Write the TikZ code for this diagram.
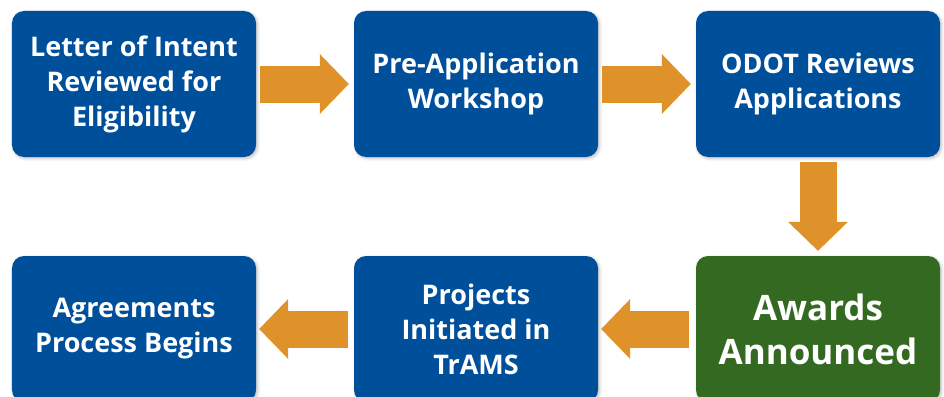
\documentclass[tikz,border=0pt]{standalone}
\usepackage{fontspec}
\setmainfont{Open Sans}
\usepackage{tikz}
\usetikzlibrary{arrows.meta,shadows.blur}
\definecolor{stepblue}{RGB}{0,79,155}
\definecolor{awardgreen}{RGB}{51,105,32}
\definecolor{floworange}{RGB}{224,146,42}
\tikzset{
    stepnode/.style = {align=center, inner sep=2pt, text centered, text=white},
    step_box/.style = {stepnode, rectangle, rounded corners=12bp, fill=stepblue, minimum width=244bp, minimum height=146bp,
        font=\bfseries\fontsize{27bp}{35bp}\selectfont,
        blur shadow={shadow xshift=1.5bp, shadow yshift=-1.5bp, shadow blur radius=3bp, shadow opacity=25}},
    award_box/.style = {step_box, fill=awardgreen, font=\bfseries\fontsize{35bp}{44bp}\selectfont},
    flow_arrow/.style = {draw=floworange, line width=37bp, -{Triangle[length=29bp, width=60bp, line width=0pt]}}
}

\begin{document}
\begin{tikzpicture}[x=1bp, y=1bp]
                \useasboundingbox (0,0) rectangle (944,396);
                \clip (0,0) rectangle (944,396);
                % top row
                \node [step_box] (b_letter)   at (134,312) {Letter of Intent\\Reviewed for\\Eligibility};
                \node [step_box] (b_workshop) at (476,312) {Pre-Application\\Workshop};
                \node [step_box] (b_review)   at (818,312) {ODOT Reviews\\Applications};
                % bottom row
                \node [award_box] (b_award) at (818,67) {Awards\\Announced};
                \node [step_box] (b_trams)  at (476,67) {Projects\\Initiated in\\TrAMS};
                \node [step_box] (b_agree)  at (134,67) {Agreements\\Process Begins};
                % flow
                \draw [flow_arrow, shorten <=4bp, shorten >=5bp] (b_letter.east) -- (b_workshop.west);
                \draw [flow_arrow, shorten <=4bp, shorten >=5bp] (b_workshop.east) -- (b_review.west);
                \draw [flow_arrow, shorten <=5bp, shorten >=5bp] (b_review.south) -- (b_award.north);
                \draw [flow_arrow, shorten <=7bp, shorten >=3bp] (b_award.west) -- (b_trams.east);
                \draw [flow_arrow, shorten <=6bp, shorten >=3bp] (b_trams.west) -- (b_agree.east);
\end{tikzpicture}
\end{document}
